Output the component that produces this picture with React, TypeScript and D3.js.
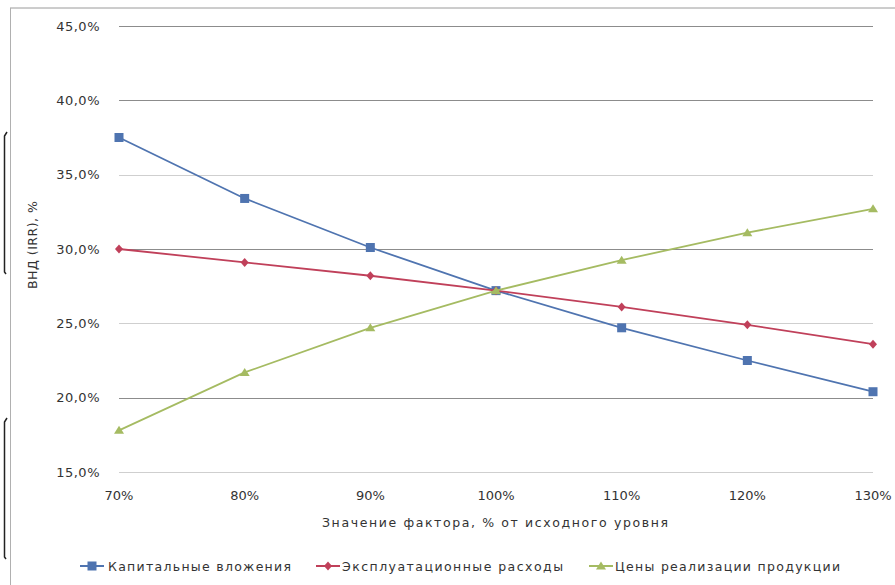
import React from "react";
import * as d3 from "d3";

const categories = ["70%", "80%", "90%", "100%", "110%", "120%", "130%"];
const capex = [37.5, 33.4, 30.1, 27.2, 24.7, 22.5, 20.4];
const opex = [30.0, 29.1, 28.2, 27.2, 26.1, 24.9, 23.6];
const prices = [17.8, 21.7, 24.7, 27.2, 29.25, 31.1, 32.7];
const yTicks = [15, 20, 25, 30, 35, 40, 45];
const seriesNames = ["Капитальные вложения", "Эксплуатационные расходы", "Цены реализации продукции"];

const W = 895;
const H = 585;
const FONT = "'DejaVu Sans', 'Open Sans', sans-serif";

export default function App() {
  const x = d3.scalePoint<string>().domain(categories).range([119, 873]);
  const y = d3.scaleLinear().domain([15, 45]).range([472, 26]);
  const line = d3
    .line<number>()
    .x((_, i) => x(categories[i]) as number)
    .y((d) => y(d));

  const series = [
    { name: seriesNames[0], data: capex, color: "#4f74b0", marker: "square" },
    { name: seriesNames[1], data: opex, color: "#c0405a", marker: "diamond" },
    { name: seriesNames[2], data: prices, color: "#a5bb62", marker: "triangle" },
  ];

  const gridColor = (t: number) => (t === 35 || t === 25 || t === 15 ? "#cfcfcf" : "#8c8c8c");

  const marker = (type: string, cx: number, cy: number, color: string, key: string) => {
    if (type === "square")
      return <rect key={key} x={cx - 4.5} y={cy - 4.5} width={9} height={9} fill={color} />;
    if (type === "diamond")
      return (
        <path
          key={key}
          d={`M${cx},${cy - 4.5}L${cx + 4},${cy}L${cx},${cy + 4.5}L${cx - 4},${cy}Z`}
          fill={color}
        />
      );
    return (
      <path key={key} d={`M${cx},${cy - 4.5}L${cx + 5},${cy + 3.5}L${cx - 5},${cy + 3.5}Z`} fill={color} />
    );
  };

  const legendPos = [
    { lx: 80, tx: 108, tw: 183 },
    { lx: 316, tx: 342, tw: 221 },
    { lx: 589, tx: 615, tw: 225 },
  ];

  return (
    <svg width={W} height={H} style={{ position: "absolute", left: 0, top: 0, background: "#fff" }}>
      {/* page frame / scan artifacts */}
      <line x1={10} y1={8} x2={W} y2={8} stroke="#9a9a9a" strokeWidth={1} />
      <line x1={10.5} y1={8} x2={10.5} y2={H} stroke="#b0b0b0" strokeWidth={1} />
      <path d="M7,132 L4.5,136 L4.5,272 L6,274" fill="none" stroke="#222" strokeWidth={1.5} />
      <path d="M7,418 L4.5,422 L4.5,557 L6,559" fill="none" stroke="#222" strokeWidth={1.5} />

      {/* gridlines */}
      {yTicks.map((t) => (
        <line
          key={t}
          x1={119}
          x2={873}
          y1={Math.round(y(t)) + 0.5}
          y2={Math.round(y(t)) + 0.5}
          stroke={gridColor(t)}
          strokeWidth={1.2}
        />
      ))}

      {/* y tick labels */}
      {yTicks.map((t) => (
        <text
          key={"yl" + t}
          x={100}
          y={y(t) + 4.5}
          textAnchor="end"
          fontFamily={FONT}
          fontSize={13}
          letterSpacing={0.5}
          fill="#333"
        >
          {t.toFixed(1).replace(".", ",") + "%"}
        </text>
      ))}

      {/* x tick labels */}
      {categories.map((c) => (
        <text
          key={"xl" + c}
          x={x(c) as number}
          y={500}
          textAnchor="middle"
          fontFamily={FONT}
          fontSize={13}
          fill="#333"
        >
          {c}
        </text>
      ))}

      {/* axis titles */}
      <text
        x={495}
        y={527}
        textAnchor="middle"
        fontFamily={FONT}
        fontSize={12.5}
        fill="#333"
        textLength={346}
        lengthAdjust="spacing"
      >
        Значение фактора, % от исходного уровня
      </text>
      <text
        transform={`translate(37,245) rotate(-90)`}
        textAnchor="middle"
        fontFamily={FONT}
        fontSize={12.5}
        fill="#333"
        textLength={88}
        lengthAdjust="spacing"
      >
        ВНД (IRR), %
      </text>

      {/* series */}
      {series.map((s) => (
        <g key={s.name}>
          <path d={line(s.data) || ""} fill="none" stroke={s.color} strokeWidth={1.8} />
          {s.data.map((v, i) => marker(s.marker, x(categories[i]) as number, y(v), s.color, s.name + i))}
        </g>
      ))}

      {/* legend */}
      {series.map((s, i) => {
        const p = legendPos[i];
        const ly = 566;
        return (
          <g key={"lg" + i}>
            <line x1={p.lx} x2={p.lx + 24} y1={ly} y2={ly} stroke={s.color} strokeWidth={2} />
            {marker(s.marker, p.lx + 12, ly, s.color, "lm" + i)}
            <text
              x={p.tx}
              y={ly + 4.5}
              fontFamily={FONT}
              fontSize={12.5}
              fill="#333"
              textLength={p.tw}
              lengthAdjust="spacing"
            >
              {s.name}
            </text>
          </g>
        );
      })}
    </svg>
  );
}
